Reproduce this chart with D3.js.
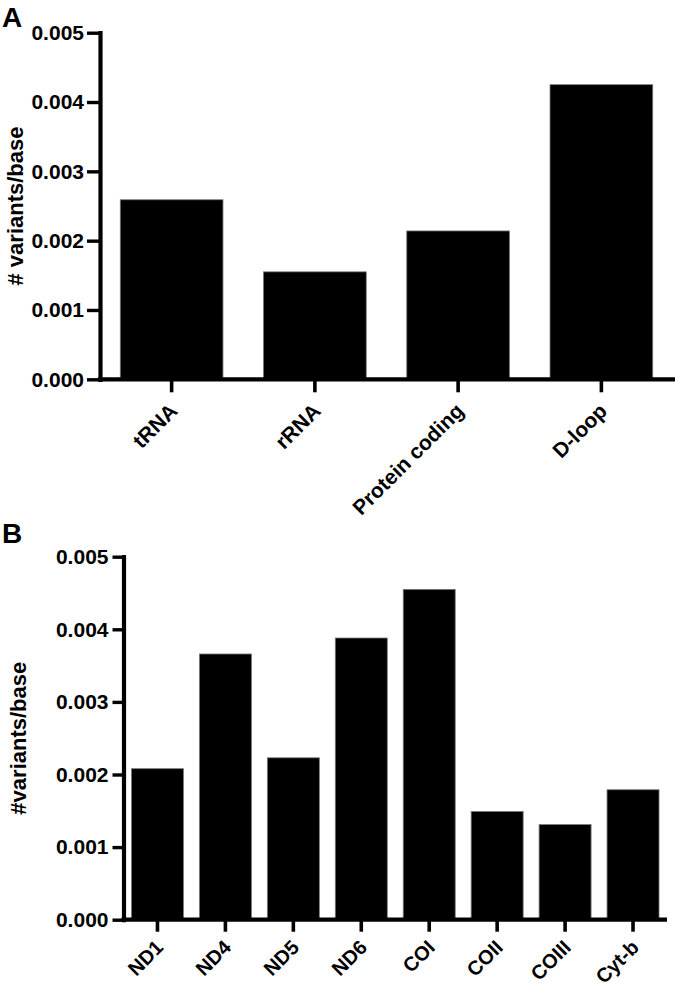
<!DOCTYPE html>
<html>
<head>
<meta charset="utf-8">
<script src="https://cdn.jsdelivr.net/npm/d3@7"></script>
<style>
  html, body { margin: 0; padding: 0; background: #fff; }
  svg { display: block; }
  text { font-family: "Liberation Sans", Arial, sans-serif; font-weight: bold; fill: #000; }
</style>
</head>
<body>
<svg id="chart" width="677" height="987"></svg>
<script>
// ---- Data ----
const regionCategories = ["tRNA", "rRNA", "Protein coding", "D-loop"];
const regionValues = [0.00259, 0.00155, 0.00214, 0.00425];

const geneCategories = ["ND1", "ND4", "ND5", "ND6", "COI", "COII", "COIII", "Cyt-b"];
const geneValues = [0.00208, 0.00366, 0.00223, 0.00388, 0.00455, 0.00149, 0.00131, 0.00179];

const yTickValues = [0, 0.001, 0.002, 0.003, 0.004, 0.005];

const svg = d3.select("#chart");

function panel(opts) {
  const g = svg.append("g");
  const x = d3.scaleBand()
    .domain(opts.categories)
    .range([opts.left, opts.right])
    .paddingInner(opts.padInner)
    .paddingOuter(opts.padInner / 2);
  const y = d3.scaleLinear()
    .domain([0, 0.005])
    .range([opts.bottom, opts.top]);

  // bars
  g.selectAll("rect.bar")
    .data(opts.values)
    .join("rect")
    .attr("class", "bar")
    .attr("x", (d, i) => x(opts.categories[i]))
    .attr("width", x.bandwidth())
    .attr("y", d => y(d))
    .attr("height", d => y(0) - y(d))
    .attr("fill", "#000")
    .attr("stroke", "#777")
    .attr("stroke-width", 0.8);

  // y axis
  const yAxis = g.append("g")
    .attr("transform", `translate(${opts.left},0)`)
    .call(d3.axisLeft(y)
      .tickValues(yTickValues)
      .tickFormat(d3.format(".3f"))
      .tickSizeInner(opts.yTick)
      .tickSizeOuter(0)
      .tickPadding(opts.yPad));
  yAxis.select(".domain").attr("stroke", "#000").attr("stroke-width", 4.2)
    .attr("stroke-linecap", "square");
  yAxis.selectAll(".tick line").attr("stroke", "#000").attr("stroke-width", 3.4);
  yAxis.selectAll(".tick text").style("font-size", "21px").attr("fill", "#000");

  // x axis
  const xAxis = g.append("g")
    .attr("transform", `translate(0,${opts.bottom})`)
    .call(d3.axisBottom(x).tickSizeInner(opts.xTick).tickSizeOuter(0).tickPadding(0));
  xAxis.select(".domain").attr("stroke", "#000").attr("stroke-width", 4.2)
    .attr("d", `M${opts.left - 2},0H${opts.axisEnd}`);
  xAxis.selectAll(".tick line").attr("stroke", "#000").attr("stroke-width", 3.6);
  xAxis.selectAll(".tick text")
    .style("font-size", opts.xFont)
    .attr("fill", "#000")
    .attr("text-anchor", "end")
    .attr("y", 0)
    .attr("dy", 0)
    .attr("transform", `translate(${opts.lblDx},${opts.lblDy}) rotate(-45)`);

  // axis title
  g.append("text")
    .attr("transform", `translate(${opts.titleX},${(opts.top + opts.bottom) / 2}) rotate(-90)`)
    .attr("text-anchor", "middle")
    .style("font-size", "22px")
    .text(opts.title);

  // panel letter
  g.append("text")
    .attr("x", opts.letterX)
    .attr("y", opts.letterY)
    .style("font-size", "28px")
    .text(opts.letter);
}

panel({
  categories: regionCategories, values: regionValues,
  left: 100, right: 673, axisEnd: 675, top: 32.7, bottom: 379.3,
  padInner: 0.283, yTick: 13, yPad: 3, xTick: 13, lblDx: 7, lblDy: 33, xFont: "21px",
  title: "# variants/base", titleX: 23, letter: "A", letterX: 2, letterY: 27
});

panel({
  categories: geneCategories, values: geneValues,
  left: 123.5, right: 667, axisEnd: 667, top: 556.7, bottom: 919.7,
  padInner: 0.235, yTick: 11, yPad: 4, xTick: 12, lblDx: 7, lblDy: 29, xFont: "20px",
  title: "#variants/base", titleX: 26, letter: "B", letterX: 2, letterY: 543
});
</script>
</body>
</html>
